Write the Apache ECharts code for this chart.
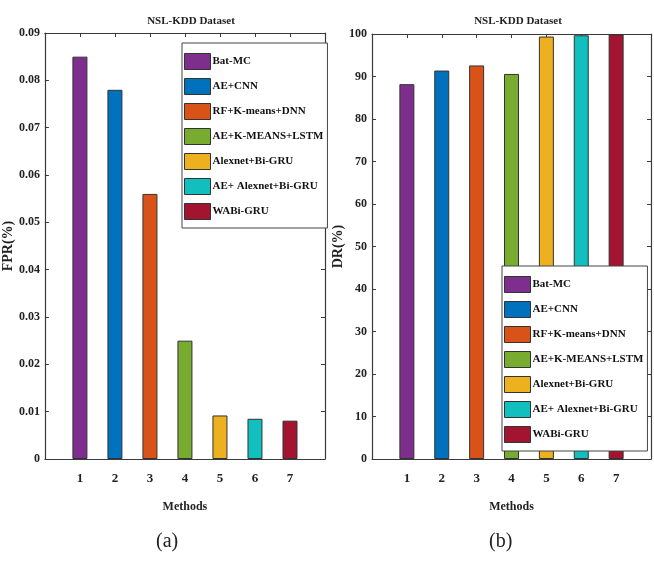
<!DOCTYPE html>
<html>
<head>
<meta charset="utf-8">
<script src="https://cdn.jsdelivr.net/npm/echarts@6/dist/echarts.min.js"></script>
<style>
  html, body { margin: 0; padding: 0; background: #fff; }
  #main { width: 654px; height: 563px; }
</style>
</head>
<body>
<div id="main"></div>
<script>
const methods = ['Bat-MC', 'AE+CNN', 'RF+K-means+DNN', 'AE+K-MEANS+LSTM', 'Alexnet+Bi-GRU', 'AE+ Alexnet+Bi-GRU', 'WABi-GRU']
const methodIndex = [1, 2, 3, 4, 5, 6, 7]
const fprValues = [0.085, 0.078, 0.056, 0.025, 0.0092, 0.0085, 0.0081]
const drValues = [88.2, 91.4, 92.6, 90.6, 99.4, 99.7, 99.9]
const colors = ['#7E2F8E', '#0072BD', '#D95319', '#77AC30', '#EDB120', '#12BFBF', '#A2142F']

const FONT = '"Liberation Serif", "Times New Roman", serif'
const AXIS_COLOR = '#3a3a3a'

var Chart = echarts.init(document.getElementById('main'))

let bottomAxis = (grid) => ({
  type: 'value',
  gridIndex: grid,
  min: 0,
  max: 8,
  interval: 1,
  name: 'Methods',
  nameLocation: 'middle',
  nameGap: 42,
  nameTextStyle: { fontFamily: FONT, fontWeight: 'bold', fontSize: 12, color: '#222' },
  axisLine: { onZero: false, lineStyle: { color: AXIS_COLOR, width: 1.2 } },
  axisTick: { inside: true, length: 4, lineStyle: { color: AXIS_COLOR } },
  axisLabel: {
    margin: 13,
    fontFamily: FONT, fontWeight: 'bold', fontSize: 13, color: '#222',
    formatter: (v) => (v >= 1 && v <= 7 ? String(v) : '')
  },
  splitLine: { show: false }
})
let topAxis = (grid) => ({
  type: 'value',
  gridIndex: grid,
  position: 'top',
  min: 0,
  max: 8,
  interval: 1,
  axisLine: { onZero: false, lineStyle: { color: AXIS_COLOR, width: 1.2 } },
  axisTick: { inside: true, length: 4, lineStyle: { color: AXIS_COLOR } },
  axisLabel: { show: false },
  splitLine: { show: false }
})
let leftAxis = (grid, max, interval, name, gap) => ({
  type: 'value',
  gridIndex: grid,
  min: 0,
  max: max,
  interval: interval,
  name: name,
  nameLocation: 'middle',
  nameGap: gap,
  nameTextStyle: { fontFamily: FONT, fontWeight: 'bold', fontSize: 14, color: '#222' },
  axisLine: { show: true, onZero: false, lineStyle: { color: AXIS_COLOR, width: 1.2 } },
  axisTick: { show: true, inside: true, length: 4, lineStyle: { color: AXIS_COLOR } },
  axisLabel: { margin: 5, fontFamily: FONT, fontWeight: 'bold', fontSize: 12, color: '#222' },
  splitLine: { show: false }
})
let rightAxis = (grid, max, interval) => ({
  type: 'value',
  gridIndex: grid,
  position: 'right',
  min: 0,
  max: max,
  interval: interval,
  axisLine: { show: true, onZero: false, lineStyle: { color: AXIS_COLOR, width: 1.2 } },
  axisTick: { show: true, inside: true, length: 4, lineStyle: { color: AXIS_COLOR } },
  axisLabel: { show: false },
  splitLine: { show: false }
})

let legendBox = (left, top) => ({
  data: methods,
  orient: 'vertical',
  left: left,
  top: top,
  padding: [10, 4, 8, 2],
  itemGap: 8,
  itemWidth: 26,
  itemHeight: 16,
  backgroundColor: '#fff',
  borderColor: '#444',
  borderWidth: 1,
  borderRadius: 0,
  selectedMode: false,
  icon: 'rect',
  itemStyle: { borderColor: '#333', borderWidth: 1 },
  textStyle: { fontFamily: FONT, fontWeight: 'bold', fontSize: 11, color: '#111', padding: [0, 0, 0, -3] }
})

let seriesData = []
methods.forEach((m, i) => {
  seriesData.push({
    name: m,
    type: 'bar',
    xAxisIndex: 0,
    yAxisIndex: 0,
    barWidth: 15,
    barGap: '-100%',
    itemStyle: { color: colors[i], borderColor: '#333', borderWidth: 1 },
    data: [[methodIndex[i], fprValues[i]]]
  })
  seriesData.push({
    name: m,
    type: 'bar',
    xAxisIndex: 2,
    yAxisIndex: 2,
    barWidth: 15,
    barGap: '-100%',
    itemStyle: { color: colors[i], borderColor: '#333', borderWidth: 1 },
    data: [[methodIndex[i], drValues[i]]]
  })
})

var option = {
  backgroundColor: '#fff',
  animation: false,
  title: [
    {
      text: 'NSL-KDD Dataset', left: 186, top: 11, textAlign: 'center',
      textStyle: { fontFamily: FONT, fontWeight: 'bold', fontSize: 11, color: '#222' }
    },
    {
      text: 'NSL-KDD Dataset', left: 513, top: 11, textAlign: 'center',
      textStyle: { fontFamily: FONT, fontWeight: 'bold', fontSize: 11, color: '#222' }
    }
  ],
  legend: [legendBox(182, 43), legendBox(502, 266)],
  grid: [
    { left: 43, top: 33, width: 282, bottom: 104 },
    { left: 372, top: 34, width: 285, bottom: 104 }
  ],
  xAxis: [bottomAxis(0), topAxis(0), bottomAxis(1), topAxis(1)],
  yAxis: [
    leftAxis(0, 0.09, 0.01, 'FPR(%)', 25),
    rightAxis(0, 0.09, 0.01),
    leftAxis(1, 100, 10, 'DR(%)', 22),
    rightAxis(1, 100, 10)
  ],
  graphic: [
    { type: 'text', left: 156, top: 532, style: { text: '(a)', font: '20px ' + FONT, fill: '#222' } },
    { type: 'text', left: 489, top: 532, style: { text: '(b)', font: '20px ' + FONT, fill: '#222' } }
  ],
  series: seriesData
}
Chart.setOption(option)
</script>
</body>
</html>
